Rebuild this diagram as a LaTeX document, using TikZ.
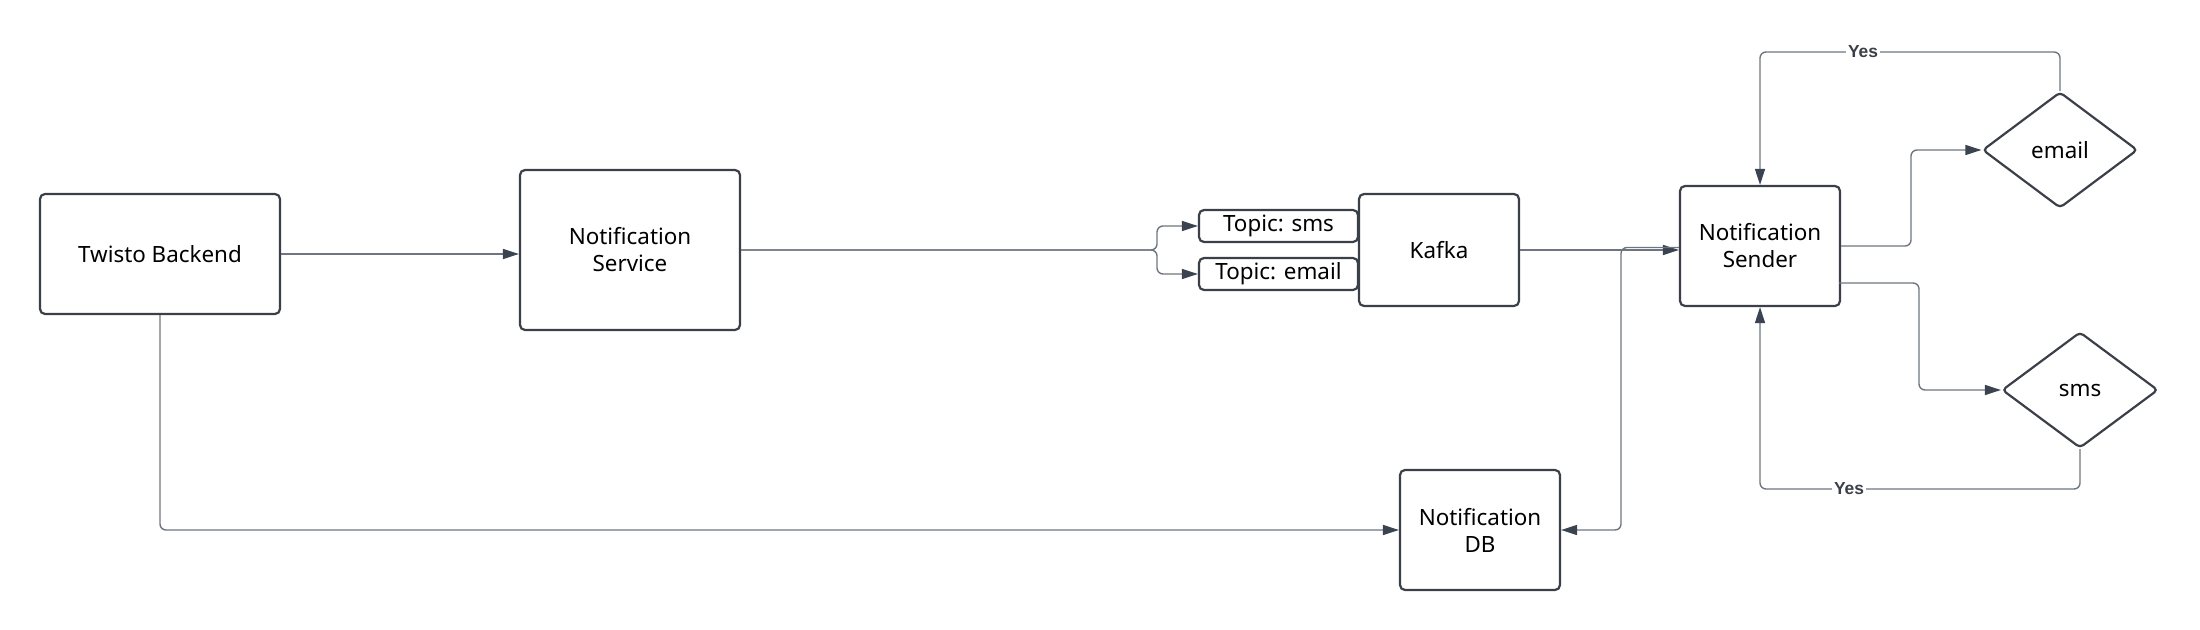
\documentclass[tikz,border=0pt]{standalone}
\usepackage{fontspec}
\setmainfont{Noto Sans}
\newfontfamily\yesfont{Liberation Sans}
\usetikzlibrary{arrows.meta,shapes.geometric,calc}
\definecolor{boxc}{HTML}{3B3F48}
\definecolor{linec}{HTML}{6E7480}
\definecolor{tipc}{HTML}{3B4250}
\tikzset{
  box/.style={draw=boxc, line width=1.1pt, rounded corners=2.5pt, fill=white, align=center,
    font=\fontsize{11.2}{13.5}\selectfont, inner sep=0pt},
  dia/.style={draw=boxc, line width=1.1pt, shape=diamond, rounded corners=2pt, fill=white,
    font=\fontsize{11.2}{13.5}\selectfont, inner sep=0pt},
  conn/.style={draw=linec, line width=0.7pt, rounded corners=3pt,
    -{Triangle[length=8pt,width=5pt,color=tipc]}},
  yeslab/.style={fill=white, inner sep=1pt, font=\yesfont\fontsize{8.7}{10}\selectfont\bfseries, text=boxc}
}
\begin{document}
\begin{tikzpicture}[x=0.5pt,y=-0.5pt]
\useasboundingbox (0,0) rectangle (2200,630);
% nodes
\node[box, minimum width=120pt, minimum height=60pt] (twisto) at (160,254) {Twisto Backend};
\node[box, minimum width=110pt, minimum height=80pt] (service) at (630,250) {Notification\\Service};
\node[box, minimum width=79.5pt, minimum height=16pt] (tsms) at (1278.5,226) {Topic: sms};
\node[box, minimum width=79.5pt, minimum height=16pt] (temail) at (1278.5,274) {Topic: email};
\node[box, minimum width=80pt, minimum height=56pt] (kafka) at (1439,250) {Kafka};
\node[box, minimum width=80pt, minimum height=60pt] (sender) at (1760,246) {Notification\\Sender};
\node[box, minimum width=80pt, minimum height=60pt] (db) at (1480,530) {Notification\\DB};
\node[dia, minimum width=77.5pt, minimum height=58pt, aspect=1.336] (email) at (2060,150) {email};
\node[dia, minimum width=78pt, minimum height=58pt, aspect=1.336] (sms) at (2080,390) {sms};
\coordinate (brace) at (1157,250);
% connectors
\draw[conn] (twisto.east) -- (twisto.east -| service.west);
\draw[conn] (service.east) -- (brace) |- (tsms.west);
\draw[conn] (service.east) -- (brace) |- (temail.west);
\draw[conn] (kafka.east) -- (kafka.east -| sender.west);
\draw[conn] ($(sender.west)+(0,1.5)$) -- (1621,247.5) |- (db.east);
\draw[conn] (twisto.south) |- (db.west);
\draw[conn] (sender.east) -- (1911,246) |- (email.west);
\draw[conn] ($(sender.east)+(-2,37)$) -- (1919,283) |- (sms.west);
\draw[conn] (email.north) -- (2060,52) -| (sender.north);
\draw[conn] (sms.south) -- (2080,489) -| (sender.south);
\node[yeslab] (yes1) at (1863,52) {Yes};
\node[yeslab] (yes2) at (1849,489) {Yes};
\end{tikzpicture}
\end{document}
